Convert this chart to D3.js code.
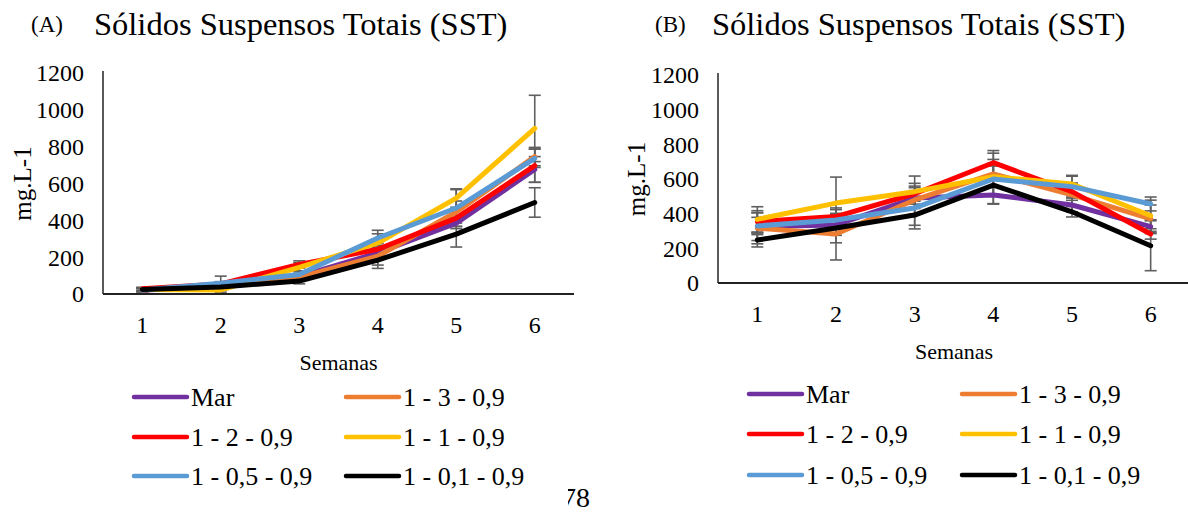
<!DOCTYPE html>
<html>
<head>
<meta charset="utf-8">
<script src="https://cdn.jsdelivr.net/npm/d3@7"></script>
<style>
  html, body { margin: 0; padding: 0; background: #fff; }
  svg text { font-family: "Liberation Serif", "DejaVu Serif", "Times New Roman", Times, serif; }
</style>
</head>
<body>
<svg id="fig" width="1188" height="514"></svg>
<script>
// Weeks on the x axis
const weeks = [1, 2, 3, 4, 5, 6];
const yTicks = [0, 200, 400, 600, 800, 1000, 1200];

// Treatments (legend order) and their colours
const seriesNames = ["Mar", "1 - 3 - 0,9", "1 - 2 - 0,9", "1 - 1 - 0,9", "1 - 0,5 - 0,9", "1 - 0,1 - 0,9"];
const seriesColors = ["#7030A0", "#ED7D31", "#FF0000", "#FFC000", "#5B9BD5", "#000000"];

// (A) SST, mg.L-1, mean per week
const aMar  = [20, 45, 95, 223, 385, 676];
const a13   = [22, 45, 92, 205, 445, 746];
const a12   = [28, 55, 160, 243, 412, 697];
const a11   = [25, 22, 145, 277, 521, 899];
const a105  = [22, 59, 106, 304, 467, 737];
const a101  = [25, 38, 70, 184, 325, 497];
// (A) standard deviation
const aMarErr = [8, 10, 15, 25, 30, 70];
const a13Err  = [10, 10, 15, 48, 60, 50];
const a12Err  = [8, 12, 20, 30, 45, 90];
const a11Err  = [8, 12, 25, 50, 50, 180];
const a105Err = [10, 38, 20, 42, 100, 50];
const a101Err = [10, 15, 15, 45, 70, 80];

// (B) SST, mg.L-1, mean per week
const bMar  = [325, 335, 490, 508, 450, 325];
const b13   = [316, 283, 479, 629, 508, 370];
const b12   = [354, 383, 515, 694, 527, 283];
const b11   = [367, 461, 527, 613, 571, 388];
const b105  = [329, 363, 433, 600, 556, 456];
const b101  = [248, 317, 392, 565, 411, 215];
// (B) standard deviation
const bMarErr = [80, 60, 60, 50, 40, 40];
const b13Err  = [90, 150, 80, 120, 60, 80];
const b12Err  = [63, 40, 60, 70, 50, 30];
const b11Err  = [73, 150, 90, 100, 50, 90];
const b105Err = [50, 35, 100, 90, 60, 40];
const b101Err = [40, 85, 80, 110, 30, 144];

const FONT = "Liberation Serif, DejaVu Serif, serif";
const svg = d3.select("#fig");

function drawPanel(p) {
  const g = svg.append("g").attr("font-family", FONT);
  const x = d3.scaleBand().domain(weeks).range([p.x0, p.x1]);
  const y = d3.scaleLinear().domain([0, 1200]).range([p.y0, p.y1]);
  const cx = d => x(d) + x.bandwidth() / 2;

  // panel letter and title
  g.append("text").attr("x", p.letterX).attr("y", 32).attr("font-size", 23).text(p.letter);
  g.append("text").attr("x", p.titleX).attr("y", 35).attr("font-size", 32.5).text("Sólidos Suspensos Totais (SST)");

  // y tick labels
  g.selectAll(".yt").data(yTicks).join("text")
    .attr("x", p.x0 - 19).attr("y", d => y(d)).attr("dy", "0.35em")
    .attr("text-anchor", "end").attr("font-size", 24).text(d => d);

  // x tick labels
  g.selectAll(".xt").data(weeks).join("text")
    .attr("x", d => cx(d)).attr("y", p.y0 + 31).attr("dy", "0.35em")
    .attr("text-anchor", "middle").attr("font-size", 24).text(d => d);

  // axis titles
  g.append("text").attr("x", (p.x0 + p.x1) / 2).attr("y", p.y0 + 68).attr("dy", "0.35em")
    .attr("text-anchor", "middle").attr("font-size", 22).text("Semanas");
  g.append("text")
    .attr("transform", `translate(${p.yLabelX},${(p.y0 + p.y1) / 2}) rotate(-90)`)
    .attr("dy", "0.35em").attr("text-anchor", "middle").attr("font-size", 25).text("mg.L-1");

  // axes lines
  g.append("line").attr("x1", p.x0).attr("x2", p.x0).attr("y1", y(1200) - 2).attr("y2", p.y0)
    .attr("stroke", "#222").attr("stroke-width", 1.5);
  g.append("line").attr("x1", p.x0).attr("x2", p.x1).attr("y1", p.y0).attr("y2", p.y0)
    .attr("stroke", "#222").attr("stroke-width", 1.8);

  // error bars
  const errG = g.append("g").attr("stroke", "#5f5f5f").attr("stroke-width", 1.6);
  p.series.forEach(s => {
    weeks.forEach((w, i) => {
      const v = s.values[i], e = s.err[i];
      const xx = cx(w);
      errG.append("line").attr("x1", xx).attr("x2", xx).attr("y1", y(v + e)).attr("y2", y(Math.max(0, v - e)));
      [v + e, Math.max(0, v - e)].forEach(t => {
        errG.append("line").attr("x1", xx - 6).attr("x2", xx + 6).attr("y1", y(t)).attr("y2", y(t));
      });
    });
  });

  // series lines
  const line = d3.line().x((d, i) => cx(weeks[i])).y(d => y(d));
  p.series.forEach((s, k) => {
    g.append("path").datum(s.values).attr("d", line)
      .attr("fill", "none").attr("stroke", seriesColors[k]).attr("stroke-width", 5)
      .attr("stroke-linejoin", "round").attr("stroke-linecap", "round");
  });

  // legend
  const lg = g.append("g");
  seriesNames.forEach((name, k) => {
    const col = k % 2, row = Math.floor(k / 2);
    const lx = p.legX[col], ly = p.legY[row];
    lg.append("line").attr("x1", lx).attr("x2", lx + 53).attr("y1", ly).attr("y2", ly)
      .attr("stroke", seriesColors[k]).attr("stroke-width", 4.5).attr("stroke-linecap", "round");
    lg.append("text").attr("x", lx + 57).attr("y", ly).attr("dy", "0.35em")
      .attr("font-size", 26).text(name);
  });
}

drawPanel({
  letter: "(A)", letterX: 31, titleX: 94,
  x0: 103, x1: 574, y0: 294, y1: 73, yLabelX: 22,
  legX: [134, 346], legY: [397, 437, 476],
  series: [
    { values: aMar, err: aMarErr }, { values: a13, err: a13Err }, { values: a12, err: a12Err },
    { values: a11, err: a11Err }, { values: a105, err: a105Err }, { values: a101, err: a101Err }
  ]
});

drawPanel({
  letter: "(B)", letterX: 655, titleX: 712,
  x0: 718, x1: 1190, y0: 283, y1: 75, yLabelX: 636,
  legX: [749, 962], legY: [394, 434, 475],
  series: [
    { values: bMar, err: bMarErr }, { values: b13, err: b13Err }, { values: b12, err: b12Err },
    { values: b11, err: b11Err }, { values: b105, err: b105Err }, { values: b101, err: b101Err }
  ]
});

// page number, partly hidden at its left edge
const pg = svg.append("g").attr("font-family", FONT);
pg.append("clipPath").attr("id", "pgclip").append("rect").attr("x", 568).attr("y", 470).attr("width", 60).attr("height", 44);
pg.append("text").attr("x", 562).attr("y", 507).attr("font-size", 28).attr("clip-path", "url(#pgclip)").text("78");
</script>
</body>
</html>
